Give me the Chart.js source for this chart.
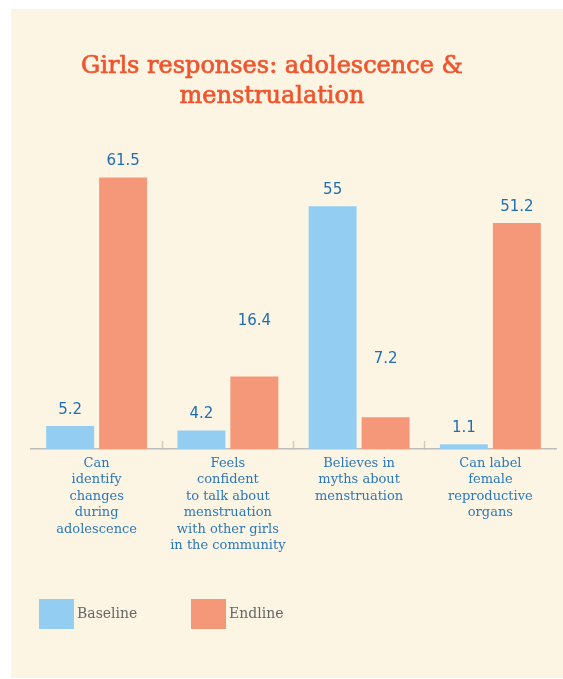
<!DOCTYPE html>
<html>
<head>
<meta charset="utf-8">
<title>Girls responses</title>
<script src="https://cdn.jsdelivr.net/npm/chart.js"></script>
<style>
  html, body { margin: 0; padding: 0; background: #ffffff; }
  canvas { display: block; }
</style>
</head>
<body>
<canvas id="graph" width="563" height="679"></canvas>
<script>
// data
var categories = [
  ["Can", "identify", "changes", "during", "adolescence"],
  ["Feels", "confident", "to talk about", "menstruation", "with other girls", "in the community"],
  ["Believes in", "myths about", "menstruation"],
  ["Can label", "female", "reproductive", "organs"]
]
var baseline = [5.2, 4.2, 55, 1.1]
var endline = [61.5, 16.4, 7.2, 51.2]
var seriesNames = ["Baseline", "Endline"]
var titleLines = ["Girls responses: adolescence &", "menstrualation"]

var blue = "#93cef2"
var salmon = "#f59779"
var cream = "#fdf5e3"

// value labels in the original sit a bit higher for two bars
var extraLift = { "1-1": 39, "1-2": 42 }

const panelPlugin = {
  id: "panel",
  beforeDraw(chart) {
    const ctx = chart.ctx
    ctx.save()
    ctx.fillStyle = "#ffffff"
    ctx.fillRect(0, 0, chart.width, chart.height)
    ctx.fillStyle = cream
    ctx.fillRect(11, 9, chart.width - 11, chart.height - 10)
    ctx.restore()
  },
  afterDraw(chart) {
    const ctx = chart.ctx
    ctx.save()
    // title
    ctx.fillStyle = "#f0552e"
    ctx.strokeStyle = "#f0552e"
    ctx.lineWidth = 0.7
    ctx.font = "24px 'DejaVu Serif'"
    ctx.textAlign = "center"
    ctx.textBaseline = "middle"
    titleLines.forEach((t, i) => {
      ctx.fillText(t, 272, 67 + i * 30)
      ctx.strokeText(t, 272, 67 + i * 30)
    })

    // value labels
    ctx.font = "15px 'DejaVu Sans'"
    ctx.fillStyle = "#1f6db3"
    chart.data.datasets.forEach((ds, di) => {
      const meta = chart.getDatasetMeta(di)
      meta.data.forEach((bar, i) => {
        const lift = 16 + (extraLift[di + "-" + i] || 0)
        ctx.fillText(String(ds.data[i]), bar.x, bar.y - lift)
      })
    })

    // legend
    ctx.font = "14px 'DejaVu Serif'"
    ctx.textAlign = "left"
    const starts = [39, 191]
    chart.data.datasets.forEach((ds, di) => {
      ctx.fillStyle = ds.backgroundColor
      ctx.fillRect(starts[di], 599, 35, 30)
      ctx.fillStyle = "#666666"
      ctx.fillText(ds.label, starts[di] + 38, 614)
    })
    ctx.restore()
  }
}

new Chart(document.getElementById("graph"), {
  type: "bar",
  data: {
    labels: categories,
    datasets: [
      { label: seriesNames[0], data: baseline, backgroundColor: blue },
      { label: seriesNames[1], data: endline, backgroundColor: salmon }
    ]
  },
  options: {
    responsive: false,
    devicePixelRatio: 1,
    animation: false,
    categoryPercentage: 0.807,
    barPercentage: 0.906,
    layout: { padding: { top: 140, left: 31, right: 7, bottom: 100 } },
    plugins: {
      legend: { display: false },
      title: { display: false },
      tooltip: { enabled: false }
    },
    scales: {
      y: { display: false, min: 0, max: 70 },
      x: {
        afterFit(scale) { scale.height = 130 },
        border: { color: "#bdbdbd", width: 1.5 },
        grid: {
          offset: true,
          drawOnChartArea: false,
          tickLength: -8,
          tickWidth: 1.5,
          tickColor: (c) => (c.index > 0 && c.index < 4) ? "#cfcac0" : "rgba(0,0,0,0)"
        },
        ticks: {
          padding: 14,
          color: "#2a78bd",
          font: { family: "'DejaVu Serif'", size: 13, lineHeight: "16.5px" }
        }
      }
    }
  },
  plugins: [panelPlugin]
})
</script>
</body>
</html>
